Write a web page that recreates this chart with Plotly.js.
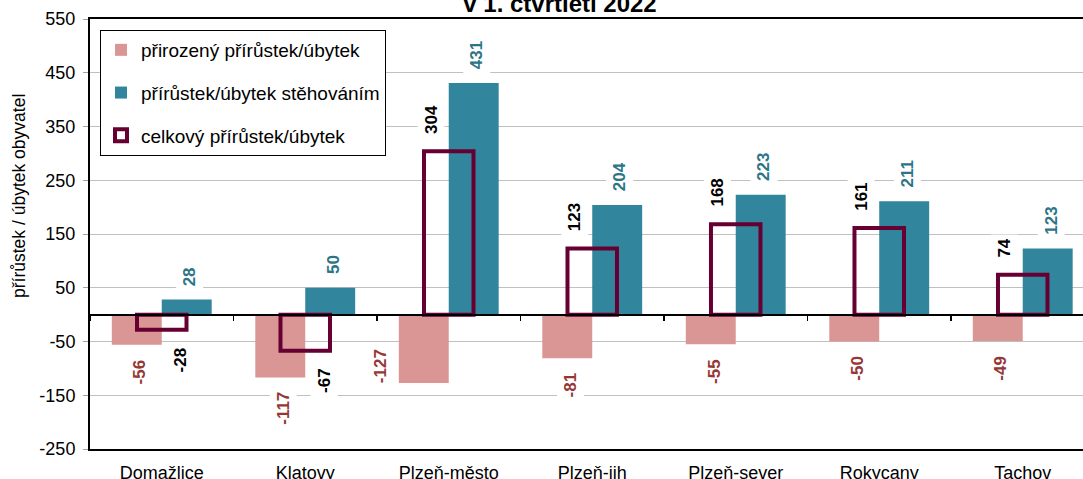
<!DOCTYPE html>
<html>
<head>
<meta charset="utf-8">
<script src="https://cdn.plot.ly/plotly-3.0.1.min.js"></script>
<style>
  html, body { margin: 0; padding: 0; background: #fff; }
  #chart { width: 1083px; height: 479px; }
</style>
</head>
<body>
<div id="chart"></div>
<script>
// ---- data ----
const categories = ['Domažlice', 'Klatovy', 'Plzeň-město', 'Plzeň-jih', 'Plzeň-sever', 'Rokycany', 'Tachov'];
const naturalChange = [-56, -117, -127, -81, -55, -50, -49];
const migrationChange = [28, 50, 431, 204, 223, 211, 123];
const totalChange = [-28, -67, 304, 123, 168, 161, 74];
const seriesNames = ['přirozený přírůstek/úbytek', 'přírůstek/úbytek stěhováním', 'celkový přírůstek/úbytek'];
const yTickValues = [-250, -150, -50, 50, 150, 250, 350, 450, 550];

// ---- style ----
const FONT = 'Arial, "Liberation Sans", sans-serif';
const PINK = '#d99694';
const TEAL = '#31859c';
const MAROON = '#660033';
const PINK_LABEL = '#953735';
const TEAL_LABEL = '#2b7587';
const XRANGE = [-0.5, 6.42];
const BARW = 0.348;
const BOXW = 0.345;

const traces = [
  {
    type: 'bar', name: seriesNames[0], x: categories, y: naturalChange,
    offset: -BARW, width: BARW, marker: {color: PINK, line: {width: 0}},
    legendgroup: 'a', hoverinfo: 'skip'
  },
  {
    type: 'bar', name: seriesNames[1], x: categories, y: migrationChange,
    offset: 0, width: BARW, marker: {color: TEAL, line: {width: 0}},
    legendgroup: 'b', hoverinfo: 'skip'
  },
  {
    type: 'bar', name: seriesNames[2], x: categories, y: totalChange,
    xaxis: 'x2', yaxis: 'y',
    offset: -BOXW / 2, width: BOXW,
    marker: {color: 'rgba(0,0,0,0)', line: {color: MAROON, width: 4}},
    legendgroup: 'c', hoverinfo: 'skip'
  }
];

// special manual placement of one label (as in the original)
const nudges = {natural: {'Plzeň-město': {dx: -46, dy: 48}}};

function labels(values, key, color, xshift, gap) {
  return values.map((v, i) => {
    const n = (nudges[key] && nudges[key][categories[i]]) || {dx: 0, dy: 0};
    return {
      x: categories[i], y: v, xref: 'x', yref: 'y',
      text: '<b>' + v + '</b>', textangle: -90, showarrow: false,
      xanchor: 'center', yanchor: v >= 0 ? 'bottom' : 'top',
      xshift: xshift + n.dx, yshift: (v >= 0 ? gap : -gap) + n.dy,
      font: {family: FONT, size: 17, color: color},
      bgcolor: '#ffffff', borderwidth: 0, borderpad: 4
    };
  });
}

const annotations = [].concat(
  labels(naturalChange, 'natural', PINK_LABEL, -22, 10.5),
  labels(migrationChange, 'migration', TEAL_LABEL, 28, 9.5),
  labels(totalChange, 'total', '#000000', 0, 13.5).map((a, i) =>
    Object.assign(a, {xshift: totalChange[i] >= 0 ? -18 : 19}))
);

annotations.push({
  text: 'přírůstek / úbytek obyvatel', textangle: -90, showarrow: false,
  xref: 'paper', yref: 'paper', x: (19 - 90) / 993, y: (449 - 196) / 430,
  xanchor: 'center', yanchor: 'middle',
  font: {family: FONT, size: 17.5, color: '#000'}
});

const layout = {
  width: 1083, height: 479,
  margin: {l: 90, r: 0, t: 19, b: 30, pad: 0},
  paper_bgcolor: '#fff', plot_bgcolor: '#fff',
  barmode: 'overlay',
  showlegend: true,
  title: {
    text: '<b>v 1. čtvrtletí 2022</b>',
    font: {family: FONT, size: 24, color: '#000'},
    xref: 'container', x: 560 / 1083, xanchor: 'center',
    yref: 'container', y: 1 - 12 / 479, yanchor: 'bottom'
  },
  font: {family: FONT, color: '#000'},
  xaxis: {
    type: 'category', categoryorder: 'array', categoryarray: categories,
    range: XRANGE, fixedrange: true,
    showline: true, linecolor: '#000', linewidth: 2, mirror: true,
    ticks: '', showgrid: false, zeroline: false,
    ticklabelstandoff: 6,
    tickfont: {family: FONT, size: 18, color: '#000'}
  },
  xaxis2: {
    type: 'category', categoryorder: 'array', categoryarray: categories,
    range: XRANGE, overlaying: 'x', anchor: 'free', position: 0.3125,
    showline: true, linecolor: '#000', linewidth: 2,
    ticks: 'outside', tickson: 'boundaries', ticklen: 5, tickwidth: 1.5, tickcolor: '#000',
    showticklabels: false, showgrid: false, zeroline: false
  },
  yaxis: {
    range: [-250, 550], tickmode: 'array', tickvals: yTickValues,
    ticktext: yTickValues.map(String),
    showgrid: true, gridcolor: '#c0c0c0', gridwidth: 1,
    zeroline: false,
    showline: true, linecolor: '#000', linewidth: 2,
    ticks: 'outside', ticklen: 5, tickcolor: '#a0a0a0', tickwidth: 1,
    ticklabelstandoff: 4,
    tickfont: {family: FONT, size: 18, color: '#000'}
  },
  legend: {
    x: 10 / 993, y: (449 - 30) / 430, xanchor: 'left', yanchor: 'top',
    bgcolor: '#fff', bordercolor: '#000', borderwidth: 1,
    font: {family: FONT, size: 19, color: '#000'},
    traceorder: 'grouped', tracegroupgap: 15
  },
  annotations: annotations
};

Plotly.newPlot('chart', traces, layout, {displayModeBar: false, staticPlot: true});
</script>
</body>
</html>
